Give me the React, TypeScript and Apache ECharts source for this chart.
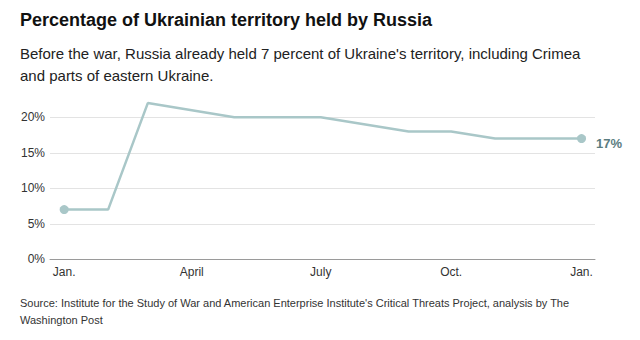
import React, { useEffect, useRef } from "react";
import * as echarts from "echarts";

const dates = ["2022-01-01", "2022-02-01", "2022-03-01", "2022-05-01", "2022-07-01", "2022-09-01", "2022-10-01", "2022-11-01", "2023-01-01"];
const values = [7, 7, 22, 20, 20, 18, 18, 17, 17];
const yTicks = [0, 5, 10, 15, 20];
const xTickDates = ["2022-01-01", "2022-04-01", "2022-07-01", "2022-10-01", "2023-01-01"];
const xTickLabels = ["Jan.", "April", "July", "Oct.", "Jan."];

const titleText = "Percentage of Ukrainian territory held by Russia";
const subtitleText = "Before the war, Russia already held 7 percent of Ukraine's territory, including Crimea\nand parts of eastern Ukraine.";
const sourceText = "Source: Institute for the Study of War and American Enterprise Institute's Critical Threats Project, analysis by The\nWashington Post";

const FONT = "'Liberation Sans', Arial, sans-serif";
const NARROW = "'Liberation Sans Narrow', 'Liberation Sans', sans-serif";

export default function App() {
  const ref = useRef<HTMLDivElement>(null);
  useEffect(() => {
    if (!ref.current) return;
    const chart = echarts.init(ref.current, null, { renderer: "svg" });
    const day = 86400000;
    const ts = (d: string) => new Date(d + "T00:00:00Z").getTime() / day;
    const tickTs = xTickDates.map(ts);
    const last = dates.length - 1;
    chart.setOption({
      animation: false,
      backgroundColor: "#ffffff",
      graphic: [
        { type: "text", left: 20, top: 11, style: { text: titleText, font: `bold 18px ${FONT}`, fill: "#111" } },
        { type: "text", left: 20, top: 42, style: { text: subtitleText, font: `15px ${FONT}`, fill: "#222", lineHeight: 22 } },
        { type: "text", left: 20, top: 294, style: { text: sourceText, font: `11px ${NARROW}`, fill: "#333", lineHeight: 17 } },
      ],
      grid: { left: 50, right: 45, top: 117.3, bottom: 80.7, containLabel: false },
      xAxis: {
        type: "value",
        min: ts(dates[0]) - 10,
        max: ts(dates[last]) + 9.5,
        axisLine: { show: true, onZero: false, lineStyle: { color: "#9a9a9a", width: 1 } },
        axisTick: { show: false },
        splitLine: { show: false },
        axisLabel: {
          customValues: tickTs,
          formatter: (v: number) => {
            const i = tickTs.findIndex((t) => Math.abs(t - v) < 0.5);
            return i >= 0 ? xTickLabels[i] : "";
          },
          color: "#333",
          fontSize: 12,
          fontFamily: NARROW,
          margin: 7,
        },
      },
      yAxis: {
        type: "value",
        min: 0,
        max: 20,
        interval: 5,
        axisLine: { show: false },
        axisTick: { show: false },
        splitLine: { show: true, lineStyle: { color: "#e3e3e3", width: 1 } },
        axisLabel: {
          formatter: (v: number) => `${v}%`,
          color: "#333",
          fontSize: 12,
          fontFamily: NARROW,
          margin: 5,
        },
      },
      series: [
        {
          type: "line",
          clip: false,
          showSymbol: true,
          lineStyle: { color: "#a9c7c8", width: 2.5 },
          itemStyle: { color: "#a9c7c8" },
          data: dates.map((d, i) => ({
            value: [ts(d), values[i]],
            symbol: i === 0 || i === last ? "circle" : "none",
            symbolSize: 9,
            label:
              i === last
                ? {
                    show: true,
                    position: "right",
                    distance: 10,
                    offset: [0, 5],
                    formatter: (p: any) => `${p.value[1]}%`,
                    color: "#5b7c80",
                    fontWeight: "bold",
                    fontSize: 13,
                    fontFamily: FONT,
                  }
                : { show: false },
          })),
        },
      ],
    });
    return () => chart.dispose();
  }, []);
  return <div ref={ref} style={{ width: 640, height: 340, position: "absolute", left: 0, top: 0 }} />;
}
